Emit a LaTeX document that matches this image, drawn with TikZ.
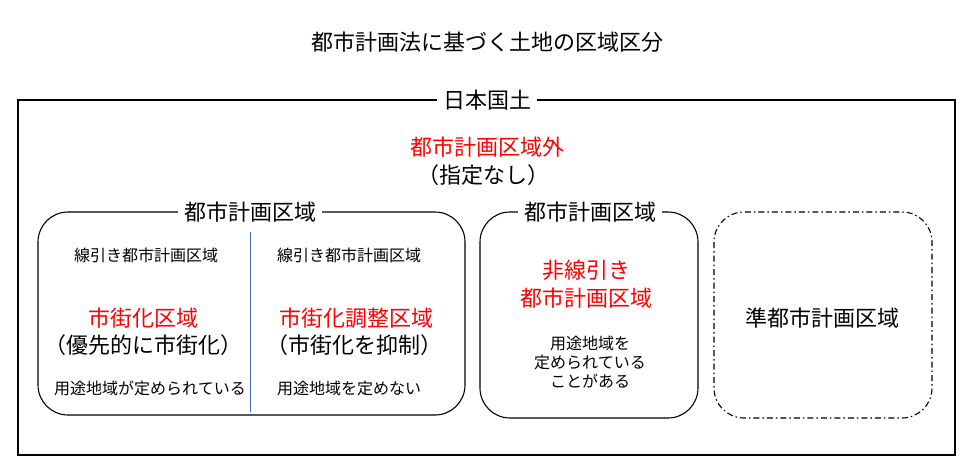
\documentclass[tikz,border=0pt]{standalone}
\usepackage{fontspec}
\setmainfont{Noto Sans CJK JP}
\begin{document}
\begin{tikzpicture}[x=1pt,y=-1pt,
  big/.style={font=\fontsize{22}{25}\selectfont},
  small/.style={font=\fontsize{16}{19}\selectfont},
  red/.style={text={rgb,255:red,255;green,0;blue,0}},
  frame/.style={draw=black,line width=1.1pt},
  lbl/.style={fill=white,inner xsep=6pt,inner ysep=1pt}]
\useasboundingbox (0,0) rectangle (974,476);
\node[big] (title) at (487,42) {都市計画法に基づく土地の区域区分};
\draw[frame] (18,100) rectangle (955,455);
\node[big,lbl] (japan) at (487,100) {日本国土};
\node[big,red] (outside) at (487,147) {都市計画区域外};
\node[big] (nodesig) at (483,175) {（指定なし）};
% box 1
\draw[frame,rounded corners=30pt] (38,212) rectangle (465,415);
\node[big,lbl] (b1) at (250,212) {都市計画区域};
\coordinate (lt) at (250,232); \coordinate (lb) at (250,412);
\draw[line width=1pt,draw={rgb,255:red,68;green,114;blue,196}] (lt) -- (lb);
\node[small] (s1) at (146,255) {線引き都市計画区域};
\node[small] (s2) at (349,255) {線引き都市計画区域};
\node[big,red] (r1) at (143,318) {市街化区域};
\node[big] (r1b) at (143,345) {（優先的に市街化）};
\node[small] (r1c) at (150,388) {用途地域が定められている};
\node[big,red] (r2) at (356,318) {市街化調整区域};
\node[big] (r2b) at (354,345) {（市街化を抑制）};
\node[small] (r2c) at (349,388) {用途地域を定めない};
% box 2
\draw[frame,rounded corners=30pt] (480,212) rectangle (698,418);
\node[big,lbl] (b2) at (590,212) {都市計画区域};
\node[big,red,align=center,font=\fontsize{22}{28}\selectfont] (n2) at (586,284) {非線引き\\都市計画区域};
\node[small,align=center,font=\fontsize{16}{19}\selectfont] (n2b) at (590,362) {用途地域を\\定められている\\ことがある};
% box 3
\draw[frame,rounded corners=30pt,dash pattern=on 6pt off 3pt on 1.5pt off 3pt] (714,212) rectangle (932,418);
\node[big] (b3) at (822,318) {準都市計画区域};
\end{tikzpicture}
\end{document}
